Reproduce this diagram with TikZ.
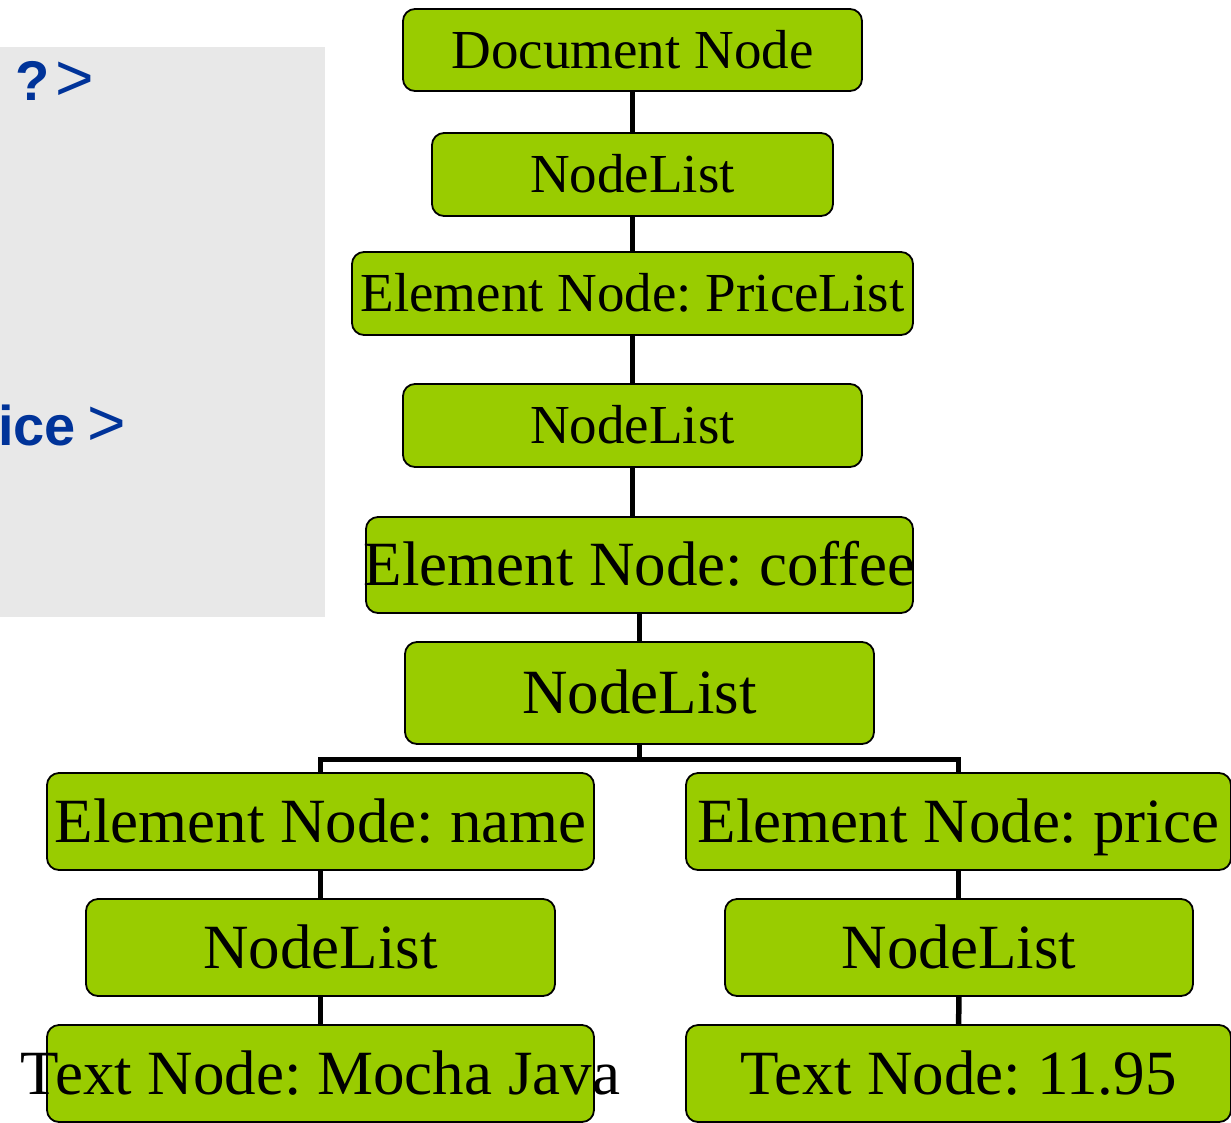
\documentclass[tikz,border=0pt]{standalone}
\usepackage{fontspec}
\setmainfont{Liberation Serif}
\newfontfamily\panelfont{Liberation Sans}
\definecolor{nodegreen}{RGB}{153,204,0}
\definecolor{panelgray}{RGB}{232,232,232}
\definecolor{codeblue}{RGB}{0,51,153}
\frenchspacing
\begin{document}
\begin{tikzpicture}[x=1pt,y=-1pt,
  domnode/.style={draw=black, line width=1.8pt, fill=nodegreen, rounded corners=12pt,
    inner sep=0pt, text depth=0pt, anchor=center},
  smallnode/.style={domnode, font=\fontsize{55}{60}\selectfont, text height=36.4pt},
  bignode/.style={domnode, font=\fontsize{63}{70}\selectfont, text height=41.7pt},
  link/.style={line width=5.5pt, draw=black},
  codetext/.style={anchor=base west, inner sep=0pt, text=codeblue,
    font=\panelfont\fontsize{56}{60}\selectfont}
]
\useasboundingbox (0,0) rectangle (1231,1122);
\fill[white] (0,0) rectangle (1231,1122);
\fill[panelgray] (0,47) rectangle (325,617);
\node[codetext] (pi) at (15,100) {\textbf{?}\hspace{6pt}{\fontsize{66}{70}\selectfont >}};
\node[codetext] (priceend) at (-2,445) {\textbf{ice}\hspace{11pt}{\fontsize{66}{70}\selectfont >}};

\node[smallnode, minimum width=459pt, minimum height=82pt] (n1) at (632.5,50) {\makebox[0pt]{Document Node}};
\node[smallnode, minimum width=401pt, minimum height=83pt] (n2) at (632.5,174.5) {\makebox[0pt]{NodeList}};
\node[smallnode, minimum width=561pt, minimum height=83pt] (n3) at (632.5,293.5) {\makebox[0pt]{Element Node: PriceList}};
\node[smallnode, minimum width=459pt, minimum height=83pt] (n4) at (632.5,425.5) {\makebox[0pt]{NodeList}};
\node[bignode, minimum width=547pt, minimum height=96pt] (n5) at (639.5,565) {\makebox[0pt]{Element Node: coffee}};
\node[bignode, minimum width=469pt, minimum height=102pt] (n6) at (639.5,693) {\makebox[0pt]{NodeList}};
\node[bignode, minimum width=547pt, minimum height=97pt] (n7) at (320.5,821.5) {\makebox[0pt]{Element Node: name}};
\node[bignode, minimum width=545pt, minimum height=97pt] (n8) at (958.5,821.5) {\makebox[0pt]{Element Node: price}};
\node[bignode, minimum width=469pt, minimum height=97pt] (n9) at (320.5,947.5) {\makebox[0pt]{NodeList}};
\node[bignode, minimum width=468pt, minimum height=97pt] (n10) at (959,947.5) {\makebox[0pt]{NodeList}};
\node[bignode, minimum width=547pt, minimum height=97pt] (n11) at (320.5,1073.5) {\makebox[0pt]{Text Node: Mocha Java}};
\node[bignode, minimum width=545pt, minimum height=97pt] (n12) at (958.5,1073.5) {\makebox[0pt]{Text Node: 11.95}};

\draw[link] (n1) -- (n2);
\draw[link] (n2) -- (n3);
\draw[link] (n3) -- (n4);
\draw[link] (n4.south) -- (n4.south |- n5.north);
\draw[link] (n5) -- (n6);
\coordinate (split) at ([yshift=-14.5pt]n6.south);
\draw[link] (n6.south) -- (split) -| (n7.north);
\draw[link] (split) -| (n8.north);
\draw[link] (n7) -- (n9);
\draw[link] (n9) -- (n11);
\draw[link] (n8.south) -- (n8.south |- n10.north);
\draw[link] (n10) -- (n12);
\end{tikzpicture}
\end{document}
